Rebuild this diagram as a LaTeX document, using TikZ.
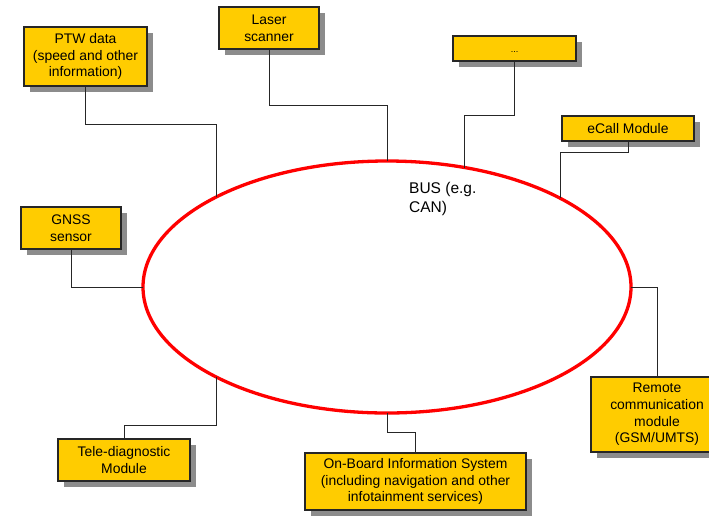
\documentclass[tikz,border=0pt]{standalone}
\usepackage{fontspec}
\setmainfont{Liberation Sans}
\usetikzlibrary{shapes.geometric,shadows,calc}
\definecolor{boxyellow}{HTML}{FFCC00}
\definecolor{busred}{HTML}{FF0000}

\begin{document}
\begin{tikzpicture}[x=1pt,y=-1pt,font=\fontsize{13.9}{16.6}\selectfont]
  \tikzstyle{module}=[draw=black!85,fill=boxyellow,line width=1.1pt,align=center,
                      inner sep=0pt,drop shadow={shadow xshift=6pt,shadow yshift=-6pt,
                      fill=black!45,opacity=1}]
  \tikzstyle{link}=[draw=black!85,line width=0.9pt]
  \useasboundingbox (0,0) rectangle (709,515);

  % the bus
  \node[draw=busred,line width=3.3pt,ellipse,minimum width=488pt,
        minimum height=252pt,inner sep=0pt] (bus) at (387,287) {};
  \node[anchor=north west,align=left,inner sep=0pt,
        font=\fontsize{15.5}{19.5}\selectfont] (buslabel) at (409,182) {BUS (e.g.\\CAN)};

  % modules
  \node[module,minimum width=123pt,minimum height=59pt] (ptw)     at (85.5,56.5) {PTW data\\(speed and other\\information)};
  \node[module,minimum width=100pt,minimum height=42pt] (laser)   at (269,28)    {Laser\\scanner};
  \node[module,minimum width=123pt,minimum height=25pt] (dots)    at (514.5,48.5) {\raisebox{-4pt}[0pt][0pt]{\fontsize{9}{9}\selectfont ...}};
  \node[module,minimum width=132pt,minimum height=25pt] (ecall)   at (628,128.5) {eCall Module};
  \node[module,minimum width=100pt,minimum height=42pt] (gnss)    at (71,228)    {GNSS\\sensor};
  \node[module,minimum width=132pt,minimum height=42pt] (tele)    at (124,460)   {Tele-diagnostic\\Module};
  \node[module,minimum width=221pt,minimum height=57pt] (obis)    at (415.5,481.5) {On-Board Information System\\(including navigation and other\\infotainment services)};
  \node[module,minimum width=132pt,minimum height=75pt] (remote)  at (657,414.5) {Remote\\communication\\module\\(GSM/UMTS)};

  % taps on the bus
  \coordinate (bptw)    at ($(bus.center)+(134.5:244pt and 126pt)$);
  \coordinate (blaser)  at ($(bus.center)+(90:244pt and 126pt)$);
  \coordinate (bdots)   at ($(bus.center)+(71.4:244pt and 126pt)$);
  \coordinate (becall)  at ($(bus.center)+(44.8:244pt and 126pt)$);
  \coordinate (bgnss)   at ($(bus.center)+(180:244pt and 126pt)$);
  \coordinate (btele)   at ($(bus.center)+(225.5:244pt and 126pt)$);
  \coordinate (bobis)   at ($(bus.center)+(270:244pt and 126pt)$);
  \coordinate (bremote) at ($(bus.center)+(0:244pt and 126pt)$);

  \draw[link] (ptw.south)   -- ++(0,38)  -| (bptw);
  \draw[link] (laser.south) -- ++(0,56)  -| (blaser);
  \draw[link] (dots.south)  -- ++(0,54)  -| (bdots);
  \draw[link] (ecall.south) -- ++(0,11)  -| (becall);
  \draw[link] (gnss.south)  |- (bgnss);
  \draw[link] (tele.north)  -- ++(0,-13) -| (btele);
  \draw[link] (obis.north)  -- ++(0,-20) -| (bobis);
  \draw[link] (remote.north) |- (bremote);
\end{tikzpicture}
\end{document}
